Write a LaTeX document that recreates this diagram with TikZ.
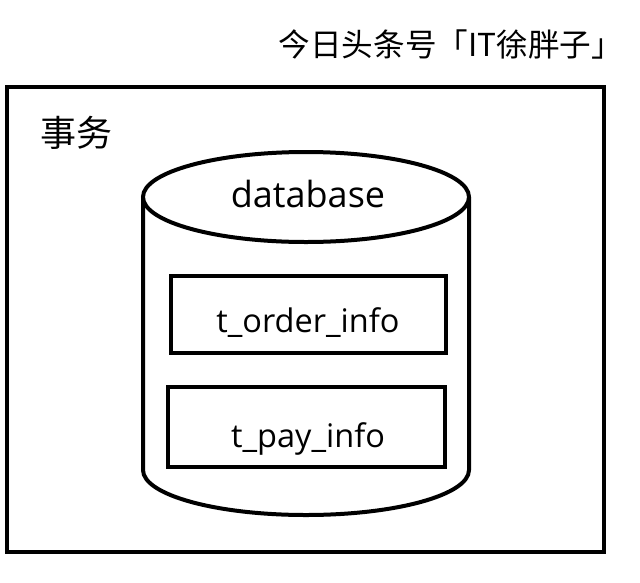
\documentclass[tikz,border=0pt]{standalone}
\usepackage{fontspec}
\setmainfont{Open Sans}
\newfontfamily\cjkfont{Noto Sans CJK SC}
\begin{document}
\begin{tikzpicture}[x=1pt,y=-1pt,
  thick line/.style={line width=4pt},
  tablebox/.style={draw,line width=4pt,minimum width=275pt,minimum height=77pt,inner sep=0pt},
  lbl/.style={inner sep=0pt,font=\fontsize{32.5}{36}\selectfont}]
\useasboundingbox (0,0) rectangle (640,582);
\node[lbl,anchor=east,font=\cjkfont\fontsize{31.6}{36}\selectfont] (title) at (623,44) {今日头条号「IT徐胖子」};
\draw[thick line] (7,87) rectangle (604,552);
\node[lbl,anchor=west,font=\cjkfont\fontsize{36}{40}\selectfont] (tx) at (40,133) {事务};
% cylinder
\draw[thick line,fill=white] (143,197) -- (143,470) arc[start angle=180,end angle=0,x radius=163,y radius=45] -- (469,197);
\draw[thick line,fill=white] (306,197) ellipse[x radius=163,y radius=45];
\node[lbl,anchor=base,font=\fontsize{36}{40}\selectfont] (db) at (308,207) {database};
\node[tablebox] (order) at (308,314.5) {};
\node[tablebox,minimum width=277pt,minimum height=80pt] (pay) at (306.5,427) {};
\node[lbl,anchor=base] (ordertxt) at (308,332) {t\_order\_info};
\node[lbl,anchor=base] (paytxt) at (308,447) {t\_pay\_info};
\end{tikzpicture}
\end{document}
